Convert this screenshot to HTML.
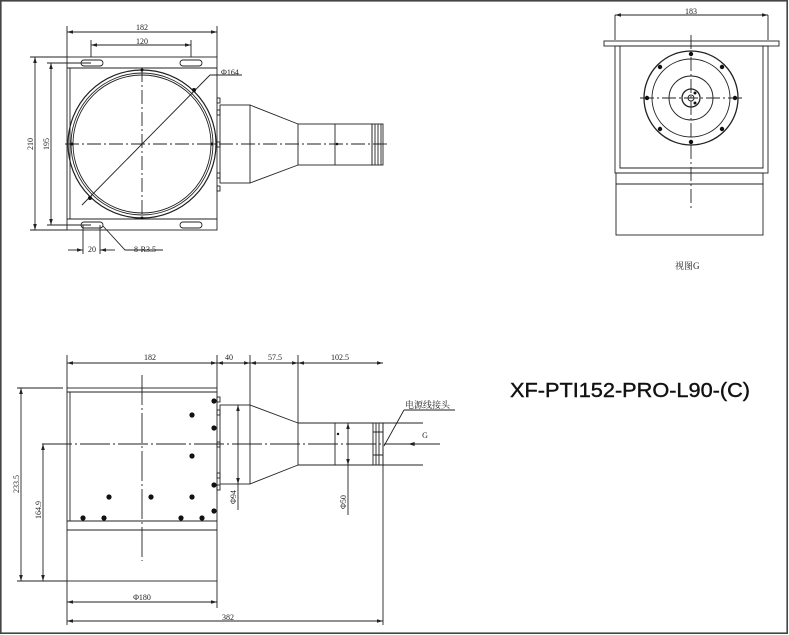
<!DOCTYPE html>
<html><head><meta charset="utf-8"><style>
html,body{margin:0;padding:0;background:#fff;}
svg{display:block;}
text{font-family:"Liberation Serif","Noto Serif CJK SC",serif;fill:#222;}
</style></head><body>
<svg width="789" height="635" viewBox="0 0 789 635" xmlns="http://www.w3.org/2000/svg">
<defs>
<marker id="a" viewBox="0 0 10 6" refX="10" refY="3" markerWidth="8" markerHeight="4" orient="auto-start-reverse"><path d="M0,0L10,3L0,6z" fill="#222"/></marker>
</defs>
<rect x="0.8" y="0.8" width="786.4" height="632.4" fill="none" stroke="#444" stroke-width="1.6"/>
<g stroke="#222" stroke-width="0.9" fill="none">
<!-- TOP VIEW -->
<rect x="67" y="57" width="150" height="173"/>
<line x1="67" y1="68" x2="217" y2="68"/>
<line x1="67" y1="219" x2="217" y2="219"/>
<line x1="70" y1="68" x2="70" y2="219"/>
<circle cx="142" cy="144" r="74" stroke-width="1.2"/>
<circle cx="142" cy="144" r="71"/>
<circle cx="142" cy="144" r="69"/>
<rect x="81" y="60" width="22" height="6" rx="3"/>
<rect x="180" y="60" width="22" height="6" rx="3"/>
<rect x="81" y="222" width="22" height="6" rx="3"/>
<rect x="180" y="222" width="22" height="6" rx="3"/>
<line x1="142" y1="68" x2="142" y2="219" stroke-dasharray="14,3,2,3"/>
<line x1="65" y1="144" x2="390" y2="144" stroke-dasharray="14,3,2,3"/>
<line x1="82" y1="205" x2="210" y2="75"/>
<line x1="210" y1="75" x2="242" y2="75"/>
<rect x="217" y="98" width="3" height="5"/><rect x="217" y="110" width="3" height="5"/><rect x="217" y="142" width="3" height="5"/><rect x="217" y="173" width="3" height="5"/><rect x="217" y="186" width="3" height="5"/>
<rect x="220" y="105" width="30" height="78"/>
<path d="M250,105L298,124M250,183L298,165"/>
<rect x="298" y="124" width="74" height="41"/>
<line x1="335" y1="124" x2="335" y2="165"/>
<rect x="372" y="124" width="11" height="41"/>
<path d="M375,124V165M378,124V165M381,124V165"/>
<path d="M67,57V26M217,57V26M91,57V40M191,57V40"/>
<line x1="67" y1="32" x2="217" y2="32" marker-start="url(#a)" marker-end="url(#a)"/>
<line x1="91" y1="45" x2="191" y2="45" marker-start="url(#a)" marker-end="url(#a)"/>
<path d="M30,57H67M30,230H67M47,63H91M47,225H91"/>
<line x1="35" y1="57" x2="35" y2="230" marker-start="url(#a)" marker-end="url(#a)"/>
<line x1="51" y1="63" x2="51" y2="225" marker-start="url(#a)" marker-end="url(#a)"/>
<path d="M83,225V254M100,225V254"/>
<line x1="68" y1="250" x2="83" y2="250" marker-end="url(#a)"/>
<line x1="115" y1="250" x2="100" y2="250" marker-end="url(#a)"/>
<path d="M103,226L125,250H163"/>
<!-- VIEW G -->
<rect x="604" y="41" width="175" height="5"/>
<rect x="615" y="46" width="153" height="127"/>
<path d="M620,46V168H763V46"/>
<rect x="616" y="173" width="147" height="11"/>
<rect x="616" y="184" width="147" height="51"/>
<line x1="691" y1="35" x2="691" y2="208" stroke-dasharray="14,3,2,3"/>
<line x1="640" y1="98" x2="742" y2="98" stroke-dasharray="14,3,2,3"/>
<circle cx="691" cy="98" r="47" stroke-width="1.3"/>
<circle cx="691" cy="98" r="39"/>
<circle cx="691" cy="98" r="22"/>
<circle cx="691" cy="98" r="9" stroke-width="1.3"/>
<circle cx="691" cy="98" r="3"/>
<path d="M615,15V40M768,15V40"/>
<line x1="615" y1="15" x2="768" y2="15" marker-start="url(#a)" marker-end="url(#a)"/>
<!-- SIDE VIEW -->
<rect x="67" y="388" width="150" height="193"/>
<line x1="67" y1="392" x2="217" y2="392"/>
<line x1="67" y1="521" x2="217" y2="521"/>
<line x1="67" y1="530" x2="217" y2="530"/>
<line x1="70" y1="392" x2="70" y2="521"/>
<line x1="142" y1="375" x2="142" y2="561" stroke-dasharray="30,3,2,3"/>
<line x1="42" y1="444" x2="440" y2="444" stroke-dasharray="30,3,2,3"/>
<rect x="217" y="397" width="3" height="5"/><rect x="217" y="410" width="3" height="5"/><rect x="217" y="442" width="3" height="5"/><rect x="217" y="473" width="3" height="5"/><rect x="217" y="485" width="3" height="5"/>
<rect x="220" y="405" width="30" height="79"/>
<path d="M250,405L298,423M250,484L298,465"/>
<path d="M298,423H423M298,465H423M298,423V465M335,423V465"/>
<rect x="373" y="423" width="10" height="42"/>
<path d="M376,423V465M379,423V465M373,432H383M373,455H383"/>
<path d="M67,388V355M217,388V355M250,405V355M298,423V355M383,423V625M383,465V625"/>
<line x1="67" y1="363" x2="217" y2="363" marker-start="url(#a)" marker-end="url(#a)"/>
<line x1="217" y1="363" x2="250" y2="363" marker-start="url(#a)" marker-end="url(#a)"/>
<line x1="250" y1="363" x2="298" y2="363" marker-start="url(#a)" marker-end="url(#a)"/>
<line x1="298" y1="363" x2="383" y2="363" marker-start="url(#a)" marker-end="url(#a)"/>
<path d="M17,388H63M17,581H67M67,581V625M217,581V608"/>
<line x1="21" y1="388" x2="21" y2="581" marker-start="url(#a)" marker-end="url(#a)"/>
<line x1="43" y1="444" x2="43" y2="581" marker-start="url(#a)" marker-end="url(#a)"/>
<line x1="67" y1="602" x2="217" y2="602" marker-start="url(#a)" marker-end="url(#a)"/>
<line x1="67" y1="621" x2="383" y2="621" marker-start="url(#a)" marker-end="url(#a)"/>
<line x1="238" y1="405" x2="238" y2="484" marker-start="url(#a)" marker-end="url(#a)"/>
<line x1="238" y1="484" x2="238" y2="510"/>
<line x1="348" y1="423" x2="348" y2="465" marker-start="url(#a)" marker-end="url(#a)"/>
<line x1="348" y1="465" x2="348" y2="515"/>
<path d="M404,410H455M404,410L384,446"/>
<line x1="440" y1="444" x2="408" y2="444" marker-end="url(#a)" stroke-width="1"/>
</g>
<g fill="#111">
<circle cx="194" cy="90" r="2"/><circle cx="90" cy="198" r="2"/><circle cx="142" cy="218" r="1.5"/><circle cx="142" cy="70" r="1.5"/><circle cx="72" cy="144" r="1.5"/><circle cx="212" cy="144" r="1.5"/><circle cx="337" cy="144" r="1.3"/>
<circle cx="691" cy="54" r="2.2"/><circle cx="691" cy="142" r="2.2"/><circle cx="647" cy="98" r="2.2"/><circle cx="735" cy="98" r="2.2"/>
<circle cx="660" cy="67" r="2.2"/><circle cx="722" cy="67" r="2.2"/><circle cx="660" cy="129" r="2.2"/><circle cx="722" cy="129" r="2.2"/>
<circle cx="695" cy="93" r="1.5"/><circle cx="695" cy="103" r="1.5"/>
<circle cx="214" cy="401" r="2.6"/><circle cx="192" cy="415" r="2.6"/><circle cx="214" cy="428" r="2.6"/><circle cx="192" cy="456" r="2.6"/><circle cx="214" cy="485" r="2.6"/><circle cx="214" cy="511" r="2.6"/>
<circle cx="109" cy="497" r="2.6"/><circle cx="151" cy="497" r="2.6"/><circle cx="192" cy="497" r="2.6"/>
<circle cx="83" cy="518" r="2.6"/><circle cx="104" cy="518" r="2.6"/><circle cx="181" cy="518" r="2.6"/><circle cx="202" cy="518" r="2.6"/>
<circle cx="338" cy="434" r="1.2"/>
</g>
<g font-size="8">
<text x="142" y="30" text-anchor="middle">182</text>
<text x="142" y="44" text-anchor="middle">120</text>
<text x="221" y="75">Φ164</text>
<text x="33" y="144" transform="rotate(-90 33 144)" text-anchor="middle">210</text>
<text x="49" y="144" transform="rotate(-90 49 144)" text-anchor="middle">195</text>
<text x="92" y="252" text-anchor="middle">20</text>
<text x="134" y="252">8-R3.5</text>
<text x="691" y="14" text-anchor="middle">183</text>
<text x="675" y="269" font-size="9">视图G</text>
<text x="150" y="360" text-anchor="middle">182</text>
<text x="229" y="360" text-anchor="middle">40</text>
<text x="275" y="360" text-anchor="middle">57.5</text>
<text x="340" y="360" text-anchor="middle">102.5</text>
<text x="19" y="484" transform="rotate(-90 19 484)" text-anchor="middle">233.5</text>
<text x="41" y="510" transform="rotate(-90 41 510)" text-anchor="middle">164.9</text>
<text x="142" y="600" text-anchor="middle">Φ180</text>
<text x="228" y="620" text-anchor="middle">382</text>
<text x="236" y="497" transform="rotate(-90 236 497)" text-anchor="middle">Φ94</text>
<text x="346" y="502" transform="rotate(-90 346 502)" text-anchor="middle">Φ50</text>
<text x="425" y="438" text-anchor="middle">G</text>
<text x="405" y="408" font-size="9">电源线接头</text>
</g>
<text x="510" y="397" font-size="20" textLength="240" lengthAdjust="spacingAndGlyphs" stroke="#111" stroke-width="0.4" style="font-family:'Liberation Sans','Noto Sans CJK SC',sans-serif;fill:#111">XF-PTI152-PRO-L90-(C)</text>
</svg>
</body></html>
